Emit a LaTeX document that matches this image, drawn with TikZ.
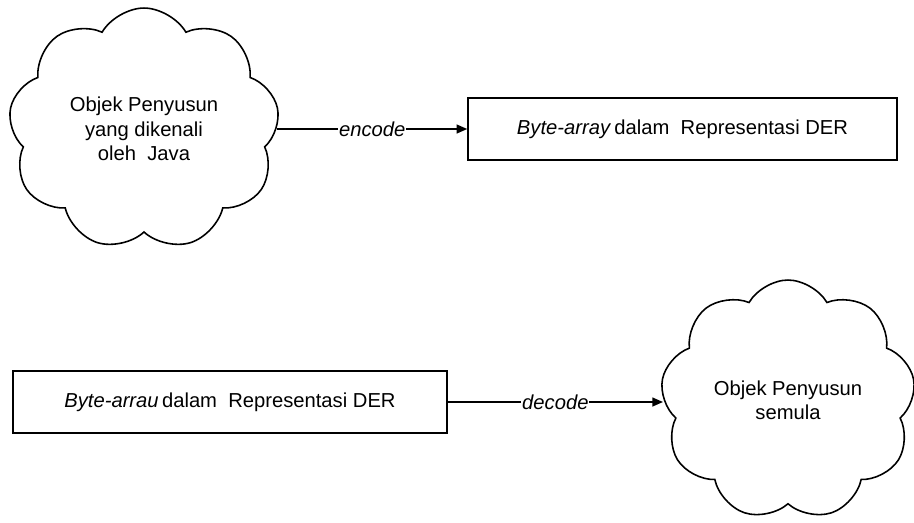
\documentclass[tikz,border=0pt]{standalone}
\usepackage{fontspec}
\setmainfont{Liberation Sans}
\usetikzlibrary{shapes.symbols, arrows.meta}

\begin{document}
\begin{tikzpicture}[x=0.02cm, y=-0.02cm, font=\fontsize{11.5}{13.8}\selectfont, line width=0.9pt,
    blob/.style={draw, cloud, cloud puffs=9, cloud puff arc=120, align=center, inner sep=0pt},
    derbox/.style={draw, rectangle, minimum height=1.24cm, inner sep=0pt},
    lbl/.style={fill=white, inner sep=0.5pt, font=\fontsize{11.5}{13.8}\selectfont\itshape}]

    % Page size, in pixels of the reference
    \useasboundingbox (0,0) rectangle (914,522);

    % Top row: object -> DER bytes
    \node[blob, minimum width=5.42cm, minimum height=4.84cm] (objA) at (144,129)
        {Objek Penyusun\\yang dikenali\\oleh\ \ Java};
    \node[derbox, minimum width=8.58cm] (derA) at (682.5,129)
        {\textit{Byte-array}\,dalam\ \ Representasi DER};

    % Bottom row: DER bytes -> object
    \node[derbox, minimum width=8.68cm] (derB) at (230,402)
        {\textit{Byte-arrau}\,dalam\ \ Representasi DER};
    \node[blob, minimum width=5.1cm, minimum height=4.8cm] (objB) at (788,400)
        {Objek Penyusun\\semula};

    % Connectors
    \draw[-{Triangle[length=6pt, width=5pt]}] (objA.east) -- node[lbl, pos=0.5] {encode} (derA.west);
    \draw[-{Triangle[length=6pt, width=5pt]}] (derB.east) -- node[lbl, pos=0.5] {decode} (derB.east -| objB.west);
\end{tikzpicture}
\end{document}
